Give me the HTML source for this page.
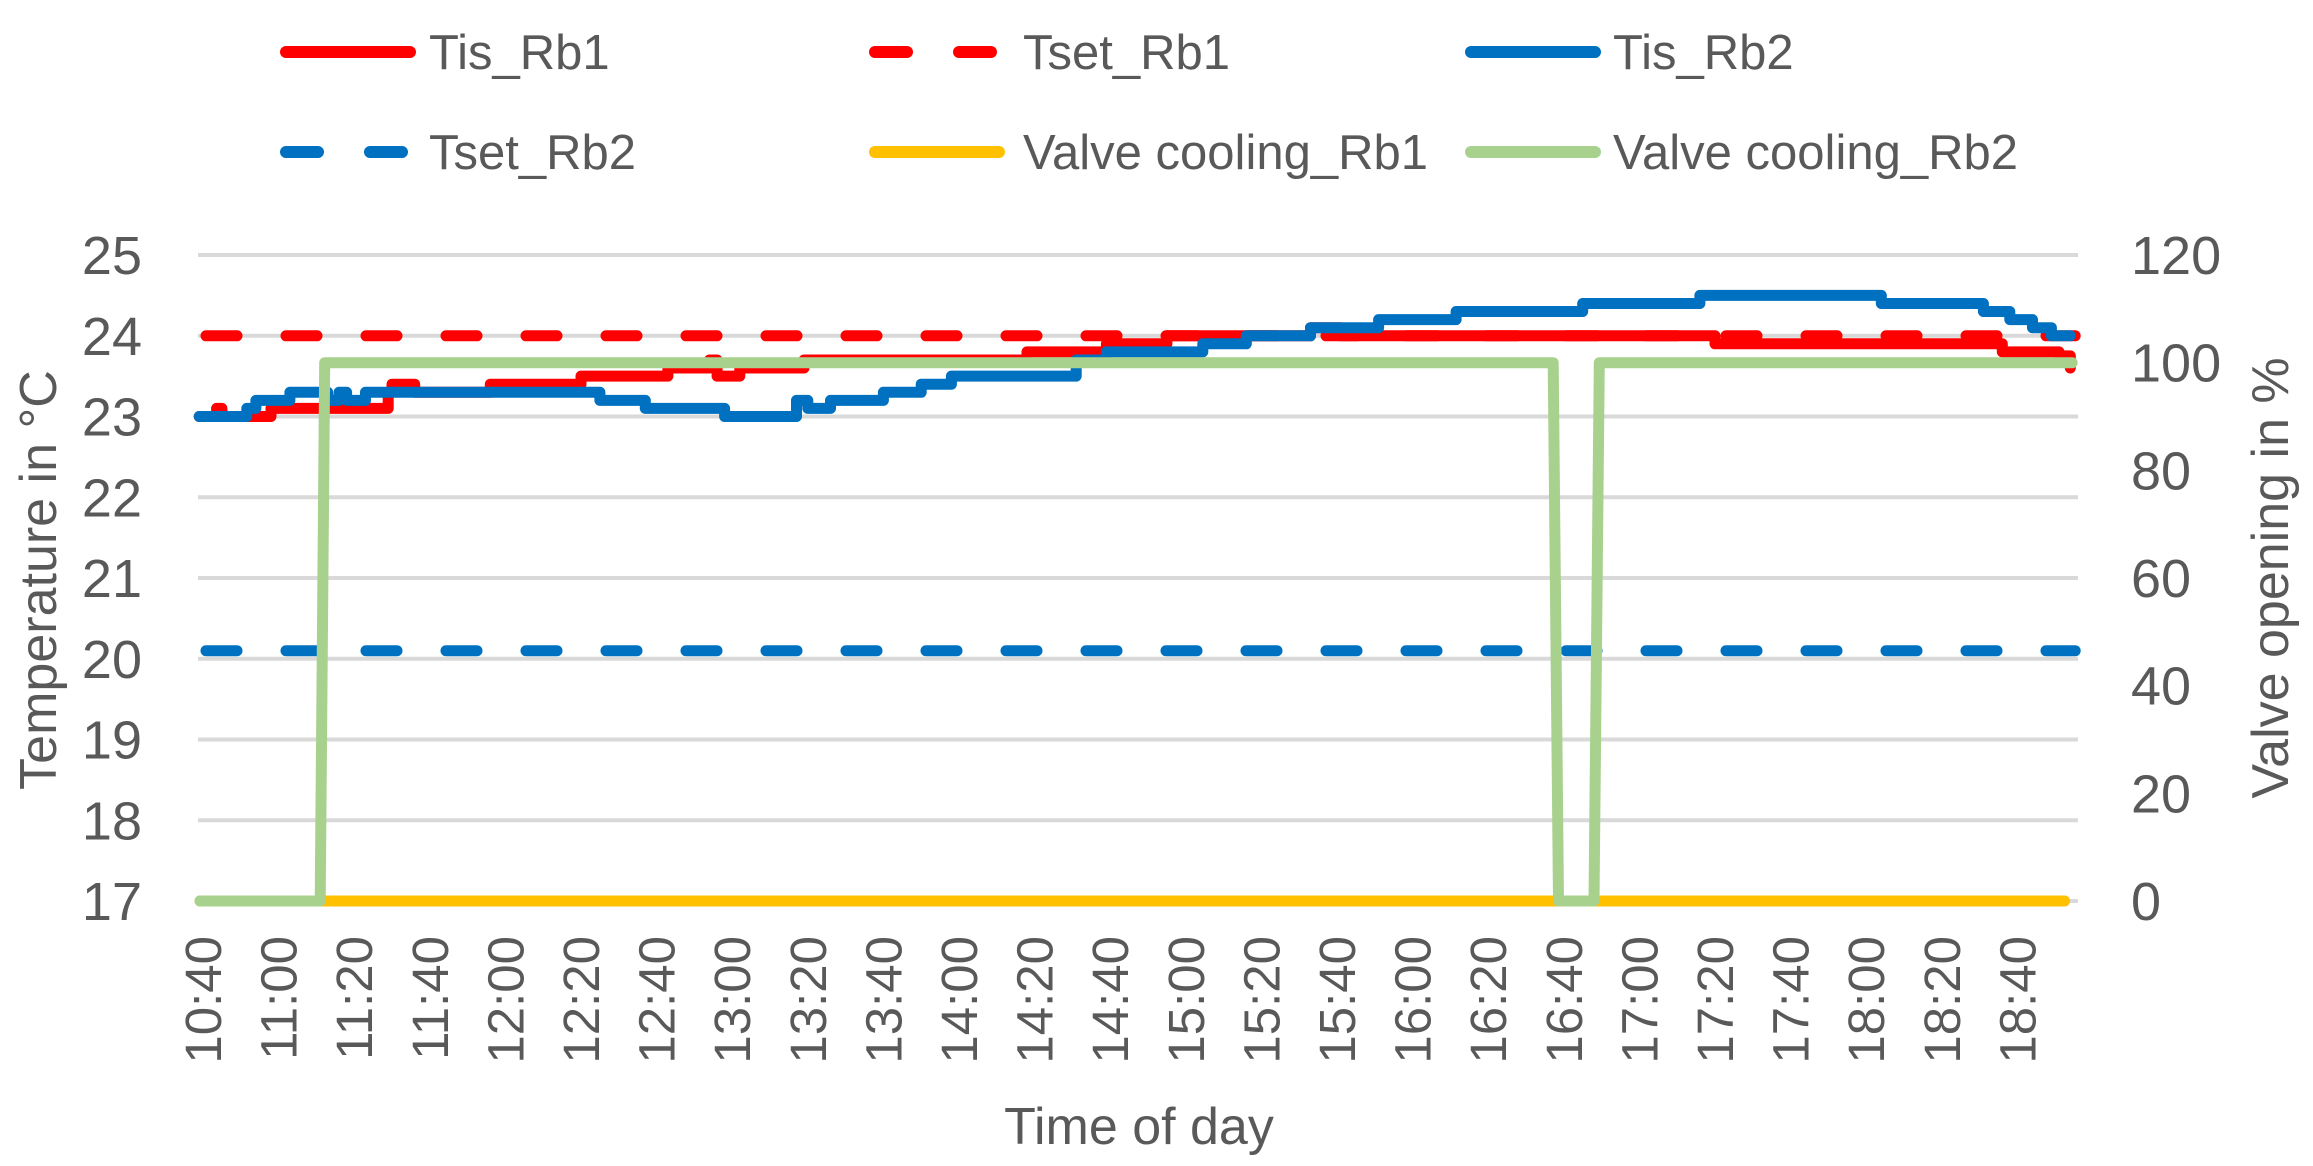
<!DOCTYPE html>
<html><head><meta charset="utf-8"><style>
html,body{margin:0;padding:0;background:#fff;}
svg{display:block;font-family:"Liberation Sans",sans-serif;}
</style></head><body>
<svg id="chart" width="2313" height="1166" viewBox="0 0 2313 1166" xmlns="http://www.w3.org/2000/svg">
<g id="grid"></g>
<g id="yl"></g>
<g id="yr"></g>
<g id="xl"></g>
<g id="series"></g>
<text transform="translate(56,580) rotate(-90)" text-anchor="middle" font-size="52" fill="#595959">Temperature in °C</text>
<text transform="translate(2288,578) rotate(-90)" text-anchor="middle" font-size="52" fill="#595959">Valve opening in %</text>
<text x="1139" y="1144" text-anchor="middle" font-size="52" fill="#595959">Time of day</text>
<g id="legend"></g>
</svg>
<script>
// ---- data (time in minutes of day) ----
const xTickLabels = ["10:40","11:00","11:20","11:40","12:00","12:20","12:40","13:00","13:20","13:40","14:00","14:20","14:40","15:00","15:20","15:40","16:00","16:20","16:40","17:00","17:20","17:40","18:00","18:20","18:40"];
const yTicks = [17,18,19,20,21,22,23,24,25];
const y2Ticks = [0,20,40,60,80,100,120];
const tisRb1T = [639,642,643.6,645,657,658,674,689,690,696,716,740,763,773,774,776,782,799,858,879,895,933,941,1040,1116,1131,1134];
const tisRb1V = [23.0,23.0,23.1,23.0,23.0,23.1,23.1,23.3,23.4,23.3,23.4,23.5,23.6,23.6,23.7,23.5,23.6,23.7,23.8,23.9,24.0,24.1,24.0,23.9,23.8,23.75,23.6];
const tisRb2T = [639,651.6,654,663,671,673,676,678,683,745,757,778,796,797,800,806,820,830,838,849,871,879,885,904.5,916,933,951,971.5,1005,1036,1084,1111,1118,1124,1129,1134];
const tisRb2V = [23.0,23.1,23.2,23.3,23.3,23.2,23.3,23.2,23.3,23.2,23.1,23.0,23.0,23.2,23.1,23.2,23.3,23.4,23.5,23.5,23.7,23.8,23.8,23.9,24.0,24.1,24.2,24.3,24.4,24.5,24.4,24.3,24.2,24.1,24.0,24.0];
const tsetRb1T = [639.2,1135.3], tsetRb1V = [24,24];
const tsetRb2T = [639.2,1135.3], tsetRb2V = [20.1,20.1];
const valveRb1T = [639.2,1132.5], valveRb1V = [0,0];
const valveRb2T = [639.2,671,672.2,997.2,998.6,1008,1009.4,1134.5];
const valveRb2V = [0,0,100,100,0,0,100,100];
const legendNames = ["Tis_Rb1","Tset_Rb1","Tis_Rb2","Tset_Rb2","Valve cooling_Rb1","Valve cooling_Rb2"];

// ---- scales ----
const X0=198, X1=2078;
const xs = t => 203 + (t-640)*3.78;
const ys = T => 901 - (T-17)*80.75;
const ys2 = v => 901 - v*(646/120);
const NS="http://www.w3.org/2000/svg";
function mk(tag, attrs, parent){const e=document.createElementNS(NS,tag);for(const k in attrs)e.setAttribute(k,attrs[k]);parent.appendChild(e);return e;}

const grid=document.getElementById('grid');
yTicks.forEach(v=>{
  const l=mk('line',{x1:X0,x2:X1,y1:ys(v),y2:ys(v),stroke:'#d9d9d9','stroke-width':4},grid);
  
  
});
const yl=document.getElementById('yl');
yTicks.forEach(v=>{
  const t=mk('text',{x:142,y:ys(v)+19,'text-anchor':'end','font-size':54,fill:'#595959'},yl);
  t.textContent=v;
  
  
});
const yr=document.getElementById('yr');
y2Ticks.forEach(v=>{
  const t=mk('text',{x:2131,y:ys2(v)+19,'text-anchor':'start','font-size':54,fill:'#595959'},yr);
  t.textContent=v;
  
  
});
const xl=document.getElementById('xl');
xTickLabels.forEach((s,i)=>{
  const x=xs(640+20*i)+18;
  const t=mk('text',{transform:`translate(${x},936) rotate(-90)`,'text-anchor':'end','font-size':51,fill:'#595959'},xl);
  t.textContent=s;
  
  
});

const S=document.getElementById('series');
function stepPts(T,V,yf){
  const p=[];
  for(let i=0;i<T.length;i++){
    if(i>0) p.push([xs(T[i]),yf(V[i-1])]);
    p.push([xs(T[i]),yf(V[i])]);
  }
  return p;
}
function linePts(T,V,yf){return T.map((t,i)=>[xs(t),yf(V[i])]);}
function draw(pts,color,dash,name){
  const e=mk('polyline',{points:pts.map(p=>p[0].toFixed(1)+','+p[1].toFixed(1)).join(' '),fill:'none',stroke:color,'stroke-width':11,'stroke-linejoin':'round','stroke-linecap':'round'},S);
  if(dash){e.setAttribute('stroke-dasharray',dash);e.setAttribute('stroke-dashoffset','-6');}
  
  
}
draw(linePts(tsetRb2T,tsetRb2V,ys),'#0070c0','31 49','tset-rb2-line');
draw(linePts(valveRb1T,valveRb1V,ys2),'#ffc000',null,'valve-cooling-rb1-line');
draw(stepPts(tisRb1T,tisRb1V,ys),'#ff0000',null,'tis-rb1-line');
draw(linePts(tsetRb1T,tsetRb1V,ys),'#ff0000','31 49','tset-rb1-line');
draw(stepPts(tisRb2T,tisRb2V,ys),'#0070c0',null,'tis-rb2-line');
draw(linePts(valveRb2T,valveRb2V,ys2),'#a9d18e',null,'valve-cooling-rb2-line');

const L=document.getElementById('legend');
const colors=['#ff0000','#ff0000','#0070c0','#0070c0','#ffc000','#a9d18e'];
const dashed=[false,true,false,true,false,false];
const lx=[280,869,1465], ly=[52,152], tx=[429,1023,1613];
legendNames.forEach((n,i)=>{
  const c=i%3,r=Math.floor(i/3);
  const g=mk('g',{},L);
  
  
  if(dashed[i]){
    mk('line',{x1:lx[c]+6,x2:lx[c]+38,y1:ly[r],y2:ly[r],stroke:colors[i],'stroke-width':12,'stroke-linecap':'round'},g);
    mk('line',{x1:lx[c]+90,x2:lx[c]+122,y1:ly[r],y2:ly[r],stroke:colors[i],'stroke-width':12,'stroke-linecap':'round'},g);
  } else {
    mk('line',{x1:lx[c]+6,x2:lx[c]+130,y1:ly[r],y2:ly[r],stroke:colors[i],'stroke-width':12,'stroke-linecap':'round'},g);
  }
  const t=mk('text',{x:tx[c],y:ly[r]+17,'font-size':49,fill:'#595959'},g);
  t.textContent=n;
});
</script>
</body></html>
